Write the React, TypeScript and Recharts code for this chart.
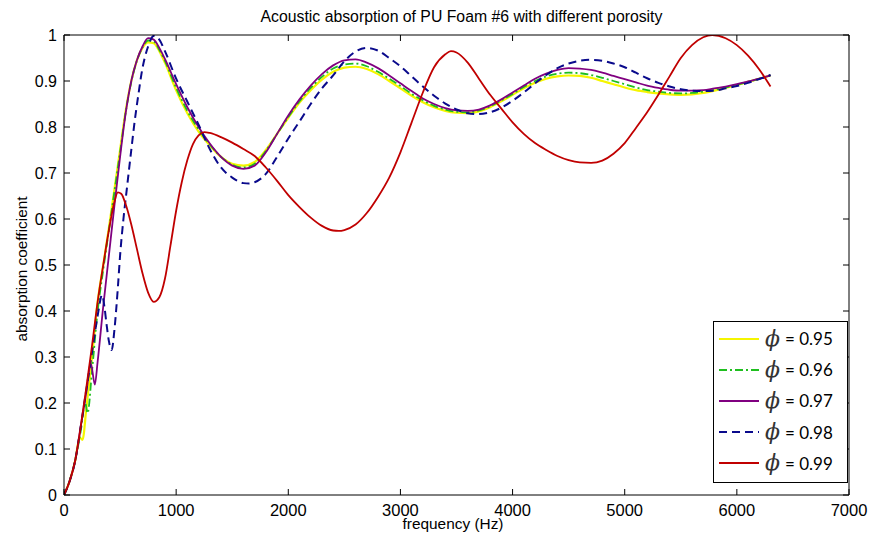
import React from 'react';
import { LineChart, Line, XAxis, YAxis, Legend } from 'recharts';

// porosity series: [frequency (Hz), absorption coefficient]
const phi095: [number, number][] = [[0,0],[50,0.03],[100,0.075],[140,0.125],[165,0.12],[200,0.19],[250,0.3],[300,0.42],[350,0.5],[400,0.58],[450,0.665],[500,0.75],[550,0.835],[600,0.9],[650,0.945],[700,0.972],[750,0.984],[800,0.982],[850,0.965],[900,0.94],[1000,0.88],[1100,0.83],[1200,0.79],[1300,0.76],[1400,0.735],[1500,0.72],[1600,0.716],[1700,0.724],[1800,0.75],[1900,0.785],[2000,0.82],[2100,0.853],[2200,0.88],[2300,0.903],[2400,0.92],[2500,0.929],[2600,0.931],[2700,0.926],[2800,0.915],[2900,0.9],[3000,0.884],[3100,0.868],[3200,0.854],[3300,0.843],[3400,0.835],[3500,0.831],[3600,0.83],[3700,0.834],[3800,0.843],[3900,0.856],[4000,0.87],[4100,0.884],[4200,0.896],[4300,0.905],[4400,0.91],[4500,0.912],[4600,0.911],[4700,0.907],[4800,0.9],[4900,0.893],[5000,0.886],[5100,0.88],[5200,0.876],[5300,0.873],[5400,0.871],[5500,0.87],[5600,0.871],[5700,0.874],[5800,0.879],[5900,0.885],[6000,0.891],[6100,0.898],[6200,0.905],[6300,0.912]];

const phi096: [number, number][] = [[0,0],[50,0.03],[100,0.075],[150,0.14],[190,0.2],[210,0.178],[250,0.27],[300,0.4],[350,0.49],[400,0.575],[450,0.66],[500,0.745],[550,0.832],[600,0.898],[650,0.944],[700,0.973],[750,0.988],[800,0.986],[850,0.968],[900,0.944],[1000,0.885],[1100,0.835],[1200,0.795],[1300,0.762],[1400,0.735],[1500,0.718],[1600,0.712],[1700,0.72],[1800,0.748],[1900,0.785],[2000,0.822],[2100,0.856],[2200,0.885],[2300,0.909],[2400,0.927],[2500,0.936],[2600,0.938],[2700,0.932],[2800,0.92],[2900,0.905],[3000,0.889],[3100,0.872],[3200,0.858],[3300,0.846],[3400,0.838],[3500,0.833],[3600,0.832],[3700,0.836],[3800,0.845],[3900,0.858],[4000,0.872],[4100,0.887],[4200,0.9],[4300,0.91],[4400,0.916],[4500,0.918],[4600,0.917],[4700,0.913],[4800,0.907],[4900,0.9],[5000,0.893],[5100,0.886],[5200,0.88],[5300,0.877],[5400,0.874],[5500,0.873],[5600,0.874],[5700,0.877],[5800,0.881],[5900,0.886],[6000,0.892],[6100,0.898],[6200,0.905],[6300,0.912]];

const phi097: [number, number][] = [[0,0],[50,0.03],[100,0.075],[150,0.15],[200,0.225],[240,0.285],[275,0.24],[300,0.29],[350,0.41],[400,0.52],[450,0.63],[500,0.735],[550,0.83],[600,0.9],[650,0.945],[700,0.975],[750,0.993],[800,0.99],[850,0.972],[900,0.948],[1000,0.893],[1100,0.843],[1200,0.8],[1300,0.764],[1400,0.735],[1500,0.716],[1600,0.709],[1700,0.716],[1800,0.745],[1900,0.785],[2000,0.825],[2100,0.86],[2200,0.89],[2300,0.915],[2400,0.934],[2500,0.945],[2600,0.947],[2700,0.94],[2800,0.928],[2900,0.912],[3000,0.895],[3100,0.878],[3200,0.862],[3300,0.85],[3400,0.841],[3500,0.836],[3600,0.835],[3700,0.838],[3800,0.847],[3900,0.86],[4000,0.875],[4100,0.89],[4200,0.905],[4300,0.916],[4400,0.924],[4500,0.928],[4600,0.927],[4700,0.924],[4800,0.918],[4900,0.911],[5000,0.904],[5100,0.897],[5200,0.89],[5300,0.885],[5400,0.881],[5500,0.879],[5600,0.879],[5700,0.88],[5800,0.884],[5900,0.888],[6000,0.893],[6100,0.899],[6200,0.905],[6300,0.912]];

const phi098: [number, number][] = [[0,0],[50,0.03],[100,0.075],[150,0.15],[200,0.23],[250,0.31],[300,0.39],[340,0.435],[360,0.41],[380,0.37],[400,0.335],[425,0.315],[450,0.36],[480,0.45],[500,0.52],[530,0.6],[560,0.665],[600,0.75],[630,0.812],[660,0.865],[700,0.928],[750,0.975],[800,0.998],[850,0.99],[900,0.965],[1000,0.905],[1100,0.855],[1200,0.805],[1300,0.752],[1400,0.712],[1500,0.69],[1600,0.678],[1650,0.677],[1700,0.68],[1800,0.698],[1900,0.735],[2000,0.775],[2100,0.812],[2200,0.85],[2300,0.884],[2400,0.912],[2500,0.943],[2600,0.964],[2700,0.972],[2800,0.966],[2900,0.95],[3000,0.932],[3100,0.91],[3200,0.888],[3300,0.868],[3400,0.851],[3500,0.838],[3600,0.83],[3700,0.828],[3800,0.832],[3900,0.842],[4000,0.857],[4100,0.875],[4200,0.895],[4300,0.913],[4400,0.928],[4500,0.938],[4600,0.944],[4700,0.946],[4800,0.944],[4900,0.938],[5000,0.93],[5100,0.918],[5200,0.906],[5300,0.896],[5400,0.888],[5500,0.882],[5600,0.879],[5700,0.878],[5800,0.879],[5900,0.884],[6000,0.889],[6100,0.896],[6200,0.904],[6300,0.913]];

const phi099: [number, number][] = [[0,0],[50,0.03],[100,0.075],[150,0.15],[200,0.235],[250,0.325],[300,0.42],[350,0.5],[400,0.575],[450,0.638],[480,0.658],[510,0.655],[550,0.632],[600,0.588],[650,0.535],[700,0.482],[750,0.44],[800,0.42],[850,0.43],[900,0.47],[950,0.543],[1000,0.618],[1050,0.68],[1100,0.728],[1150,0.763],[1200,0.782],[1250,0.789],[1300,0.787],[1400,0.778],[1500,0.766],[1600,0.752],[1700,0.737],[1800,0.712],[1900,0.683],[2000,0.652],[2100,0.626],[2200,0.603],[2300,0.585],[2400,0.575],[2450,0.574],[2500,0.576],[2600,0.588],[2700,0.613],[2800,0.648],[2900,0.69],[3000,0.745],[3100,0.81],[3200,0.875],[3300,0.93],[3400,0.958],[3450,0.965],[3500,0.962],[3600,0.94],[3700,0.905],[3800,0.87],[3900,0.84],[4000,0.81],[4100,0.785],[4200,0.765],[4300,0.75],[4400,0.737],[4500,0.728],[4600,0.723],[4700,0.722],[4800,0.727],[4900,0.742],[5000,0.765],[5100,0.798],[5200,0.832],[5300,0.87],[5400,0.91],[5500,0.95],[5600,0.978],[5700,0.995],[5780,1.0],[5900,0.993],[6000,0.978],[6100,0.955],[6200,0.925],[6300,0.888]];

const xTicks = [0, 1000, 2000, 3000, 4000, 5000, 6000, 7000];
const yTicks = [0, 0.1, 0.2, 0.3, 0.4, 0.5, 0.6, 0.7, 0.8, 0.9, 1];
const seriesLabels = ['0.95', '0.96', '0.97', '0.98', '0.99'];

const toRows = (arr: [number, number][]) => arr.map(([f, a]) => ({ f, a }));

const series = [
  { label: seriesLabels[0], data: toRows(phi095), color: '#f5f500', width: 2.2, dash: undefined as string | undefined },
  { label: seriesLabels[1], data: toRows(phi096), color: '#1fbf1f', width: 1.8, dash: '8 3 2 3' },
  { label: seriesLabels[2], data: toRows(phi097), color: '#800080', width: 1.8, dash: undefined },
  { label: seriesLabels[3], data: toRows(phi098), color: '#0a0a8c', width: 2, dash: '8 5' },
  { label: seriesLabels[4], data: toRows(phi099), color: '#c00000', width: 1.8, dash: undefined },
];

const SANS = '"Liberation Sans", Arial, sans-serif';
const tickFont = { fontFamily: SANS, fontSize: 16, fill: '#000' };
const xTickFont = { fontFamily: SANS, fontSize: 16.5, fill: '#000' };
const fmtY = (v: number) => String(Number(v.toFixed(1)));

const LegendBox = () => (
  <div style={{ width: 135, height: 162, boxSizing: 'border-box', border: '1px solid #000', background: '#fff', paddingTop: 1 }}>
    {series.map((s) => (
      <div key={s.label} style={{ height: 31.2, display: 'flex', alignItems: 'center' }}>
        <svg width={46} height={10} style={{ marginLeft: 5 }}>
          <line x1={0} y1={5} x2={40} y2={5} stroke={s.color} strokeWidth={s.width} strokeDasharray={s.dash} />
        </svg>
        <span style={{ fontFamily: '"DejaVu Serif", serif', fontStyle: 'italic', fontSize: 22, color: '#333', width: 18, lineHeight: '22px' }}>ϕ</span>
        <span style={{ fontFamily: 'Lato, "Open Sans", sans-serif', fontSize: 17, color: '#000', marginLeft: 2 }}>= {s.label}</span>
      </div>
    ))}
  </div>
);

export default function App() {
  return (
    <div style={{ position: 'absolute', left: 0, top: 0, width: 873, height: 538, background: '#fff' }}>
      <div style={{ position: 'absolute', left: 0, width: 923, top: 8, textAlign: 'center', fontFamily: SANS, fontSize: 15.8, lineHeight: '18px', color: '#000' }}>
        Acoustic absorption of PU Foam #6 with different porosity
      </div>
      <div style={{ position: 'absolute', left: 0, width: 906, top: 515, textAlign: 'center', fontFamily: SANS, fontSize: 15.4, lineHeight: '18px', color: '#000' }}>
        frequency (Hz)
      </div>
      <div style={{ position: 'absolute', left: 22, top: 269, width: 0, height: 0 }}>
        <div style={{ position: 'absolute', left: -100, top: -9, width: 200, textAlign: 'center', transform: 'rotate(-90deg)', fontFamily: SANS, fontSize: 15.4, lineHeight: '18px', color: '#000', whiteSpace: 'nowrap' }}>
          absorption coefficient
        </div>
      </div>
      <LineChart width={873} height={538} margin={{ top: 34, right: 23, bottom: 0, left: 0 }}>
        <XAxis xAxisId="bottom" type="number" dataKey="f" domain={[0, 7000]} ticks={xTicks} allowDataOverflow
          height={43} tickSize={-6} tickMargin={15} stroke="#000" tick={xTickFont} axisLine={{ stroke: '#000' }} tickLine={{ stroke: '#000' }} />
        <XAxis xAxisId="top" orientation="top" type="number" dataKey="f" domain={[0, 7000]} ticks={xTicks} allowDataOverflow
          height={1} tickSize={-6} stroke="#000" tick={() => <g />} />
        <YAxis yAxisId="left" type="number" domain={[0, 1]} ticks={yTicks} width={64} tickSize={-6} tickMargin={13}
          tickFormatter={fmtY} stroke="#000" tick={tickFont} allowDataOverflow />
        <YAxis yAxisId="right" orientation="right" type="number" domain={[0, 1]} ticks={yTicks} width={1} tickSize={-6}
          stroke="#000" tick={() => <g />} allowDataOverflow />
        {series.map((s) => (
          <Line key={s.label} xAxisId="bottom" yAxisId="left" data={s.data} dataKey="a" type="monotone"
            stroke={s.color} strokeWidth={s.width} strokeDasharray={s.dash} dot={false} activeDot={false}
            isAnimationActive={false} />
        ))}
        <Legend layout="horizontal" verticalAlign="middle" align="center" content={() => <LegendBox />}
          wrapperStyle={{ position: 'absolute', left: 713, top: 321, width: 135, height: 162 }} />
      </LineChart>
    </div>
  );
}
